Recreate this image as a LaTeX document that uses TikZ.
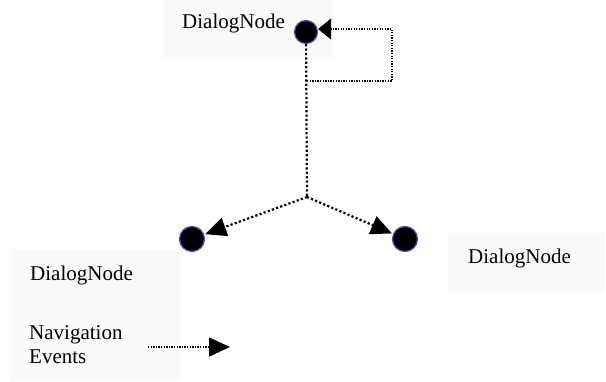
\documentclass[tikz,border=0pt]{standalone}
\usepackage{fontspec}
\setmainfont{Liberation Serif}
\usetikzlibrary{arrows.meta}
\definecolor{boxfill}{HTML}{FAFAF8}
\definecolor{ringblue}{HTML}{5A48B8}
\begin{document}
\begin{tikzpicture}[x=1pt,y=-1pt,
  panel/.style={fill=boxfill, draw=none, inner sep=0, anchor=north west},
  lbl/.style={font=\fontsize{21}{24}\selectfont, inner sep=0, align=left},
  statedot/.style={circle, fill=black, draw=ringblue, line width=1.2pt, minimum size=#1, inner sep=0},
  thickdots/.style={line width=2.2pt, dash pattern=on 2.2pt off 2.2pt},
  thindots/.style={line width=1.3pt, dash pattern=on 1.3pt off 1.3pt},
  bigtip/.style={-{Triangle[length=21pt,width=19pt]}},
  looptip/.style={-{Triangle[length=13pt,width=21pt]}}]
\useasboundingbox (0,0) rectangle (606,381);
% panels
\node[panel, minimum width=170pt, minimum height=58pt] (toppanel) at (163,0) {};
\node[panel, minimum width=170pt, minimum height=131pt] (leftpanel) at (10,250) {};
\node[panel, minimum width=157pt, minimum height=60pt] (rightpanel) at (448,233) {};
% labels
\node[lbl, anchor=base west] (toplbl) at (182,28) {DialogNode};
\node[lbl, anchor=base west] (leftlbl) at (30,280) {DialogNode};
\node[lbl, anchor=base west] (rightlbl) at (468,263) {DialogNode};
\node[lbl, anchor=north west] (navlbl) at (29,325) {Navigation\\Events};
% dots
\node[statedot=23pt] (topdot) at (306,32) {};
\node[statedot=25pt] (leftdot) at (192,239) {};
\node[statedot=25pt] (rightdot) at (405,239) {};
% coordinates
\coordinate (fork) at (307,197);
\coordinate (loopin) at (307,81);
\coordinate (loopcorner1) at (392,81);
\coordinate (loopcorner2) at (392,29);
\coordinate (navstart) at (148,347);
\coordinate (navend) at (230,347);
% connectors
\draw[thickdots] (topdot) -- (fork);
\draw[thindots, looptip] (loopin) -- (loopcorner1) -- (loopcorner2) -- (topdot.east |- loopcorner2);
\draw[thickdots, bigtip, shorten >=1pt] (fork) -- (leftdot);
\draw[thickdots, bigtip, shorten >=1pt] (fork) -- (rightdot);
\draw[thindots, bigtip] (navstart) -- (navend);
\end{tikzpicture}
\end{document}
